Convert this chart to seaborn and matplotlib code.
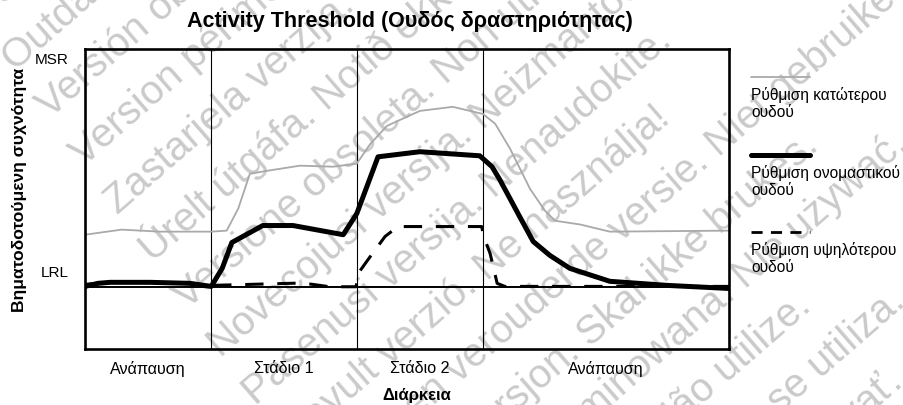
import matplotlib
matplotlib.use("Agg")
import matplotlib.pyplot as plt
import matplotlib.transforms as mtransforms
from matplotlib.lines import Line2D
import numpy as np
import seaborn as sns

# ---- data ---------------------------------------------------------------
stage_labels = ["Ανάπαυση", "Στάδιο 1", "Στάδιο 2", "Ανάπαυση"]
stage_edges = [0.0, 19.6, 42.2, 61.8, 100.0]      # % of test duration

rate_ticks = [60, 130]
rate_tick_labels = ["LRL", "MSR"]
lrl_rate = 60

# lower threshold setting
low_t = [0.0, 5.7, 11.6, 19.6, 22.0, 23.8, 25.6, 28.3, 33.4, 38.5, 42.2, 44.3,
         46.9, 52.0, 57.1, 61.8, 63.7, 66.0, 69.1, 71.4, 73.0, 76.9, 81.5, 100.0]
low_rate = [75.4, 76.9, 76.3, 76.3, 76.6, 83.1, 93.3, 94.2, 95.7, 95.4, 96.3, 102.1,
            107.4, 111.8, 113.0, 110.9, 108.0, 100.7, 88.9, 82.5, 79.5, 78.4, 76.3, 76.6]

# nominal threshold setting
nom_t = [0.0, 2.0, 3.9, 10.1, 16.3, 19.6, 21.3, 22.8, 27.6, 32.3, 40.1, 42.2, 45.5,
         52.0, 61.3, 63.2, 64.4, 66.0, 67.5, 69.6, 72.2, 75.3, 81.5, 90.4, 100.0]
nom_rate = [60.2, 61.1, 61.4, 61.4, 61.1, 60.2, 65.5, 73.1, 78.1, 78.1, 75.4, 81.6, 98.3,
            99.8, 98.6, 95.4, 91.6, 86.0, 80.7, 73.4, 69.3, 65.5, 61.7, 60.5, 59.6]

# upper threshold setting
high_t = [0.0, 3.9, 10.1, 16.3, 19.6, 33.8, 38.0, 42.1, 42.4, 44.3, 46.6, 48.6, 52.0,
          61.6, 61.9, 62.9, 64.0, 65.2, 100.0]
high_rate = [60.8, 61.4, 61.4, 61.1, 60.5, 61.2, 60.1, 60.1, 64.0, 69.0, 74.9, 77.8, 77.8,
             77.8, 74.9, 69.9, 61.1, 60.2, 60.2]

legend_labels = ["Ρύθμιση κατώτερου\nουδού",
                 "Ρύθμιση ονομαστικού\nουδού",
                 "Ρύθμιση υψηλότερου\nουδού"]

title_text = "Activity Threshold (Ουδός δραστηριότητας)"
x_title = "Διάρκεια"
y_title = "Βηματοδοτούμενη συχνότητα"

stamp_lines = [
    "Παλιά έκδοση. Μην τη χρησιμοποιείτε.",
    "Outdated version. Do not use.",
    "Versión obsoleta. No utilizar.",
    "Version périmée. Ne pas utiliser.",
    "Zastarjela verzija. Nemojte upotrebljavati.",
    "Úrelt útgáfa. Notið ekki.",
    "Versione obsoleta. Non utilizzare.",
    "Novecojusi versija. Neizmantot.",
    "Pasenusi versija. Nenaudokite.",
    "Elavult verzió. Ne használja!",
    "Dit is een verouderde versie. Niet gebruiken.",
    "Utdatert versjon. Skal ikke brukes.",
    "Wersja przeterminowana. Nie używać.",
    "Versão obsoleta. Não utilize.",
    "Versiune expirată. A nu se utiliza.",
    "Zastaraná verzia. Nepoužívať.",
]

# ---- figure -------------------------------------------------------------
sns.set_theme(style="white")
plt.rcParams["font.family"] = ["Liberation Sans", "DejaVu Sans"]

W, H = 904, 406
fig = plt.figure(figsize=(W / 100, H / 100), dpi=100)


def fx(px):
    return px / W


def fy(py):
    return 1 - py / H


# diagonal stamp text behind the chart
theta = 41
origin = np.array([-19.0, 24.0])
step = np.array([34.3, 47.7])
for i, line in enumerate(stamp_lines):
    p = origin + i * step
    fig.text(fx(p[0]), fy(p[1]), line, rotation=theta, rotation_mode="anchor",
             ha="left", va="baseline", fontsize=29, color="#cacaca", zorder=-1)

ax = fig.add_axes([fx(85), fy(350), fx(729) - fx(85), fy(50) - fy(350)])
ax.set_facecolor("none")

for edge in stage_edges[1:-1]:
    ax.axvline(edge, color="black", lw=0.8, zorder=1)
ax.axhline(lrl_rate, color="black", lw=1.4, zorder=1)

sns.lineplot(x=low_t, y=low_rate, ax=ax, color="#a9a9a9", lw=1.3,
             sort=False, estimator=None, zorder=2)
sns.lineplot(x=high_t, y=high_rate, ax=ax, color="black", lw=2.2,
             sort=False, estimator=None, zorder=3)
ax.lines[-1].set_dashes((6, 4.5))
sns.lineplot(x=nom_t, y=nom_rate, ax=ax, color="black", lw=3.6,
             sort=False, estimator=None, zorder=4)

ax.set_xlim(0, 100)
ax.set_ylim(41.8, 130)

for s in ax.spines.values():
    s.set_visible(True)
    s.set_color("black")
    s.set_linewidth(1.9)

mids = [(a + b) / 2 for a, b in zip(stage_edges[:-1], stage_edges[1:])]
ax.set_xticks(mids, stage_labels)
ax.set_yticks(rate_ticks, rate_tick_labels)
ax.tick_params(axis="x", length=0, pad=8, labelsize=11.6, colors="black")
ax.tick_params(axis="y", length=0, pad=12, labelsize=11, colors="black")
shifts = {"LRL": 0.17, "MSR": -0.08}
for lab in ax.get_yticklabels():
    dy = shifts.get(lab.get_text(), 0)
    lab.set_transform(lab.get_transform() +
                      mtransforms.ScaledTranslation(0, dy, fig.dpi_scale_trans))

ax.set_xlabel(x_title, fontsize=12, fontweight="bold", color="black")
ax.xaxis.set_label_coords((417 - 85) / 644, (350 - 388) / 300)
ax.set_ylabel(y_title, fontsize=12.6, fontweight="bold", color="black")
ax.yaxis.set_label_coords((27 - 85) / 644, (350 - 190) / 300)

fig.text(fx(410), fy(22), title_text, ha="center", va="center",
         fontsize=15.5, fontweight="bold", color="black")

# legend: sample line above each two-line caption
legend_styles = [
    dict(color="#a9a9a9", lw=1.3, ls="-"),
    dict(color="black", lw=3.6, ls="-"),
    dict(color="black", lw=2.0, ls=(0, (4, 3))),
]
legend_y = [78, 156, 233]
for lbl, st, y in zip(legend_labels, legend_styles, legend_y):
    fig.add_artist(Line2D([fx(751), fx(810)], [fy(y), fy(y)],
                          transform=fig.transFigure, **st))
    fig.text(fx(751), fy(y + 9), lbl, ha="left", va="top", fontsize=11.2,
             color="black", linespacing=1.15)

fig.savefig("out.png", dpi=100)
